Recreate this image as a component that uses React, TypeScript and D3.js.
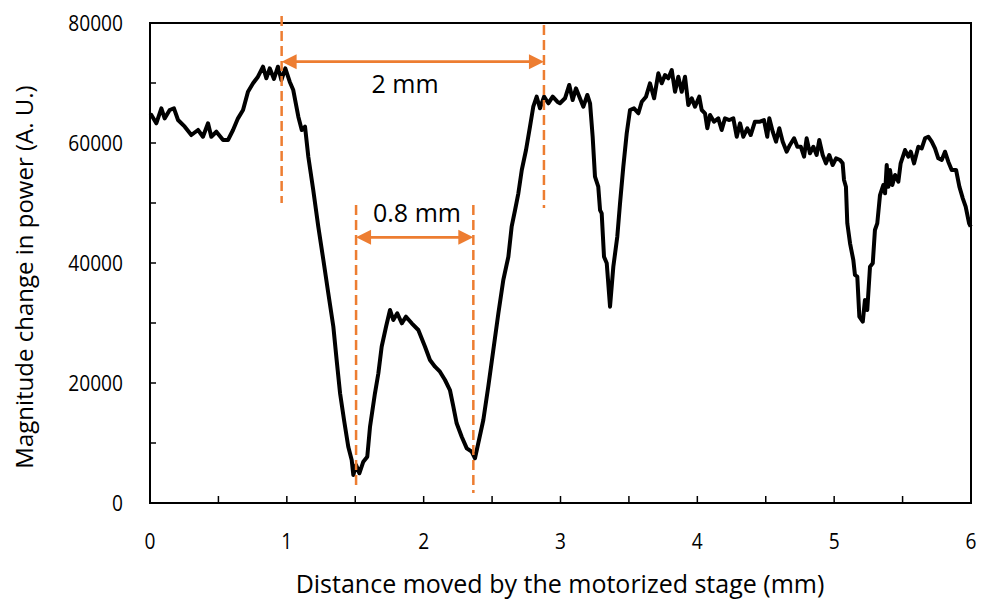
import React, { useEffect } from "react";
import * as d3 from "d3";

const distance: number[] = [
  0.0, 0.01, 0.046, 0.083, 0.107, 0.144, 0.175, 0.205, 0.254, 0.302, 0.351, 0.387, 0.424, 0.448, 0.485,
  0.534, 0.57, 0.607, 0.643, 0.68, 0.716, 0.753, 0.789, 0.826, 0.85, 0.875, 0.906, 0.935, 0.96, 0.989,
  1.021, 1.047, 1.084, 1.109, 1.133, 1.157, 1.193, 1.23, 1.267, 1.303, 1.34, 1.364, 1.389, 1.418, 1.449,
  1.474, 1.486, 1.506, 1.53, 1.559, 1.588, 1.608, 1.644, 1.669, 1.693, 1.725, 1.754, 1.778, 1.807, 1.84,
  1.871, 1.913, 1.961, 2.01, 2.046, 2.083, 2.119, 2.156, 2.192, 2.217, 2.241, 2.278, 2.315, 2.351, 2.375,
  2.399, 2.436, 2.472, 2.509, 2.546, 2.582, 2.619, 2.643, 2.668, 2.692, 2.717, 2.748, 2.777, 2.801, 2.826,
  2.85, 2.88, 2.911, 2.943, 2.977, 2.996, 3.033, 3.064, 3.089, 3.113, 3.142, 3.167, 3.196, 3.216, 3.235,
  3.252, 3.276, 3.289, 3.301, 3.318, 3.338, 3.362, 3.386, 3.415, 3.435, 3.459, 3.484, 3.508, 3.537, 3.569,
  3.594, 3.625, 3.654, 3.684, 3.715, 3.74, 3.764, 3.788, 3.813, 3.837, 3.861, 3.886, 3.91, 3.934, 3.959,
  3.983, 4.014, 4.032, 4.056, 4.073, 4.093, 4.122, 4.153, 4.178, 4.202, 4.234, 4.263, 4.288, 4.312, 4.336,
  4.365, 4.39, 4.421, 4.458, 4.487, 4.511, 4.526, 4.551, 4.575, 4.599, 4.624, 4.653, 4.677, 4.707, 4.731,
  4.756, 4.78, 4.799, 4.823, 4.848, 4.872, 4.891, 4.916, 4.94, 4.964, 4.989, 5.014, 5.043, 5.062, 5.072,
  5.086, 5.096, 5.116, 5.14, 5.152, 5.169, 5.184, 5.209, 5.225, 5.242, 5.262, 5.282, 5.298, 5.315, 5.335,
  5.359, 5.372, 5.384, 5.396, 5.408, 5.425, 5.445, 5.469, 5.486, 5.518, 5.542, 5.56, 5.584, 5.615, 5.64,
  5.664, 5.688, 5.713, 5.737, 5.761, 5.786, 5.81, 5.834, 5.859, 5.891, 5.915, 5.94, 5.961, 5.986, 5.998,
];

const power: number[] = [
  64500, 64670, 63280, 65780, 64110, 65500, 65780, 63830, 62720, 61330, 62170, 61050, 63280, 61050, 61880,
  60500, 60500, 62170, 64110, 65500, 68550, 69950, 71050, 72720, 70780, 72440, 70670, 72720, 70500, 72440,
  70220, 68830, 64380, 62170, 62720, 57720, 52170, 46050, 40500, 34950, 29380, 23830, 18280, 13830, 9380,
  7170, 4670, 6330, 4950, 6880, 7720, 12720, 18280, 21620, 26050, 29380, 32170, 30500, 31620, 29950,
  31050, 29950, 28830, 26050, 23830, 22720, 21880, 20500, 18830, 16050, 13280, 11050, 9110, 8550, 7450,
  9950, 13830, 19380, 25500, 31620, 37170, 41050, 46050, 48830, 51620, 55500, 58830, 62720, 66050, 67720,
  65780, 67720, 66620, 67720, 66880, 66620, 67450, 69670, 67170, 69110, 67450, 66050, 68000, 66620, 61050,
  54380, 52720, 48830, 48280, 41050, 39950, 32720, 39380, 44380, 49950, 56050, 61620, 65500, 65780, 64950,
  66880, 67720, 69950, 67450, 71620, 69950, 71330, 70780, 72170, 68550, 71050, 68550, 71050, 66330, 67450,
  66050, 67720, 65500, 64950, 62450, 64670, 63550, 64110, 62170, 64110, 63830, 64110, 61050, 63280, 61050,
  62450, 61330, 63550, 63550, 63830, 61050, 64110, 61880, 60220, 62450, 60220, 58550, 59670, 60780, 59380,
  59380, 57720, 60780, 58280, 59380, 58000, 60500, 58000, 56610, 58000, 56330, 57450, 57170, 56610, 53830,
  52720, 46610, 43280, 40500, 38000, 37720, 31050, 30220, 33830, 32170, 39380, 39950, 45500, 46610, 51330,
  53000, 51620, 56330, 52720, 55500, 53000, 54670, 53550, 56610, 58830, 57720, 58550, 56610, 59380, 59110,
  60780, 61050, 60220, 59110, 57450, 57170, 58550, 56880, 55500, 55500, 52720, 50780, 49380, 46610, 46050,
];

const xTickLabels: number[] = [0, 1, 2, 3, 4, 5, 6];
const xMinorTicks: number[] = [0, 0.5, 1, 1.5, 2, 2.5, 3, 3.5, 4, 4.5, 5, 5.5, 6];
const yTickLabels: number[] = [0, 20000, 40000, 60000, 80000];
const yMinorTicks: number[] = [0, 10000, 20000, 30000, 40000, 50000, 60000, 70000, 80000];

// Annotations (data units)
const spanLines = [
  { x: 0.962, y0: 81170, y1: 50000 },
  { x: 2.879, y0: 79670, y1: 49170 },
  { x: 1.506, y0: 49670, y1: 2670 },
  { x: 2.363, y0: 49670, y1: 1670 },
];
const arrows = [
  { x0: 0.962, x1: 2.879, y: 73550 },
  { x0: 1.506, x1: 2.363, y: 44280 },
];
const labels = [
  { text: "2 mm", x: 1.864, y: 68330 },
  { text: "0.8 mm", x: 1.951, y: 46880 },
];

const W = 981;
const H = 600;
const M = { left: 150, right: 971, top: 23, bottom: 503 };
const ORANGE = "#ED7D31";
const FONT = "'Open Sans', 'Noto Sans', sans-serif";
const SX = 0.87;

export default function App() {
  useEffect(() => {
    document.body.style.margin = "0";
  }, []);

  const x = d3.scaleLinear().domain([0, 6]).range([M.left, M.right]);
  const y = d3.scaleLinear().domain([0, 80000]).range([M.bottom, M.top]);

  const pts: [number, number][] = distance.map((d, i) => [d, power[i]]);
  const line = d3
    .line<[number, number]>()
    .x((d) => x(d[0]))
    .y((d) => y(d[1]));

  const ah = 15;
  const aw = 7.5;

  return (
    <svg width={W} height={H} style={{ display: "block", background: "#fff" }}>
      <rect
        x={M.left}
        y={M.top}
        width={M.right - M.left}
        height={M.bottom - M.top}
        fill="none"
        stroke="#000"
        strokeWidth={2}
      />
      {xMinorTicks.map((t) => (
        <line key={"xt" + t} x1={x(t)} x2={x(t)} y1={M.bottom} y2={M.bottom - 7} stroke="#000" strokeWidth={1.5} />
      ))}
      {yMinorTicks.map((t) => (
        <line key={"yt" + t} x1={M.left} x2={M.left + 6} y1={y(t)} y2={y(t)} stroke="#000" strokeWidth={1.5} />
      ))}
      {xTickLabels.map((t) => (
        <text
          key={"xl" + t}
          transform={`translate(${x(t)},${M.bottom + 46}) scale(${SX},1)`}
          textAnchor="middle"
          fontFamily={FONT}
          fontSize={22}
          fill="#000"
        >
          {t}
        </text>
      ))}
      {yTickLabels.map((t) => (
        <text
          key={"yl" + t}
          transform={`translate(${M.left - 27},${y(t) + 8}) scale(${SX},1)`}
          textAnchor="end"
          fontFamily={FONT}
          fontSize={22}
          fill="#000"
        >
          {t}
        </text>
      ))}
      <text x={560} y={593} textAnchor="middle" fontFamily={FONT} fontSize={25} fill="#000">
        Distance moved by the motorized stage (mm)
      </text>
      <text
        transform={`translate(33, 277) rotate(-90)`}
        textAnchor="middle"
        fontFamily={FONT}
        fontSize={24}
        fill="#000"
      >
        Magnitude change in power (A. U.)
      </text>

      <path d={line(pts) || ""} fill="none" stroke="#000" strokeWidth={4} strokeLinejoin="round" />

      {spanLines.map((s, i) => (
        <line
          key={"sl" + i}
          x1={x(s.x)}
          x2={x(s.x)}
          y1={y(s.y0)}
          y2={y(s.y1)}
          stroke={ORANGE}
          strokeWidth={2.5}
          strokeDasharray="10,5"
        />
      ))}
      {arrows.map((a, i) => {
        const xa = x(a.x0);
        const xb = x(a.x1);
        const yy = y(a.y);
        return (
          <g key={"ar" + i}>
            <line x1={xa + ah - 1} x2={xb - ah + 1} y1={yy} y2={yy} stroke={ORANGE} strokeWidth={2.75} />
            <polygon points={`${xa},${yy} ${xa + ah},${yy - aw} ${xa + ah},${yy + aw}`} fill={ORANGE} />
            <polygon points={`${xb},${yy} ${xb - ah},${yy - aw} ${xb - ah},${yy + aw}`} fill={ORANGE} />
          </g>
        );
      })}
      {labels.map((l, i) => (
        <text
          key={"lb" + i}
          x={x(l.x)}
          y={y(l.y)}
          textAnchor="middle"
          fontFamily={FONT}
          fontSize={25}
          fill="#000"
        >
          {l.text}
        </text>
      ))}
    </svg>
  );
}
